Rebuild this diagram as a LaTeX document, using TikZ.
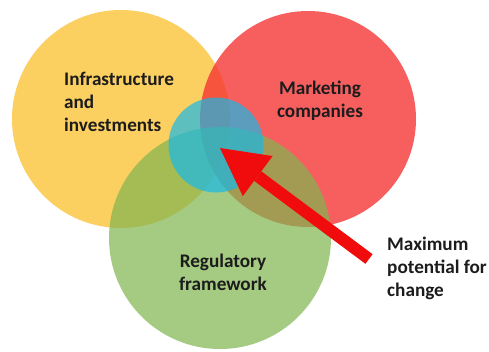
\documentclass[tikz,border=0pt]{standalone}
\usepackage{fontspec}
\setmainfont{Carlito}
\usetikzlibrary{arrows.meta}
\definecolor{cyel}{RGB}{251,194,52}
\definecolor{cred}{RGB}{245,50,50}
\definecolor{cgrn}{RGB}{128,181,78}
\definecolor{cblu}{RGB}{20,185,235}
\definecolor{carrow}{RGB}{240,12,12}
\definecolor{ctext}{RGB}{28,28,28}
\tikzset{
  venn/.style={circle, inner sep=0pt, fill opacity=0.78},
  label/.style={text=ctext, font=\bfseries\fontsize{19.2}{23}\selectfont, inner sep=0pt},
}
\begin{document}
\begin{tikzpicture}[x=1pt,y=-1pt]
\useasboundingbox (0,0) rectangle (489,351);
\fill[white] (0,0) rectangle (489,351);
\node[venn, fill=cyel, minimum size=218pt] (infra) at (121,119) {};
\node[venn, fill=cred, minimum size=216pt] (market) at (308,119) {};
\node[venn, fill=cgrn, minimum size=222pt, fill opacity=0.70] (reg) at (220,238) {};
\node[venn, fill=cblu, minimum size=95pt, fill opacity=0.68] (core) at (216,145) {};
\node[label, anchor=base west, align=left] (tinfra) at (64,131) {Infrastructure\\and\\investments};
\node[label, anchor=base, align=center] (tmarket) at (320,117) {Marketing\\companies};
\node[label, anchor=base, align=center] (treg) at (223,290) {Regulatory\\framework};
\node[label, anchor=base west, align=left] (tmax) at (387,296) {Maximum\\potential for\\change};
\coordinate (tail) at (369,259);
\coordinate (tip) at (220,148);
\draw[carrow, line width=12pt, -{Triangle[length=47pt, width=50pt, line width=0pt]}] (tail) -- (tip);
\end{tikzpicture}
\end{document}
